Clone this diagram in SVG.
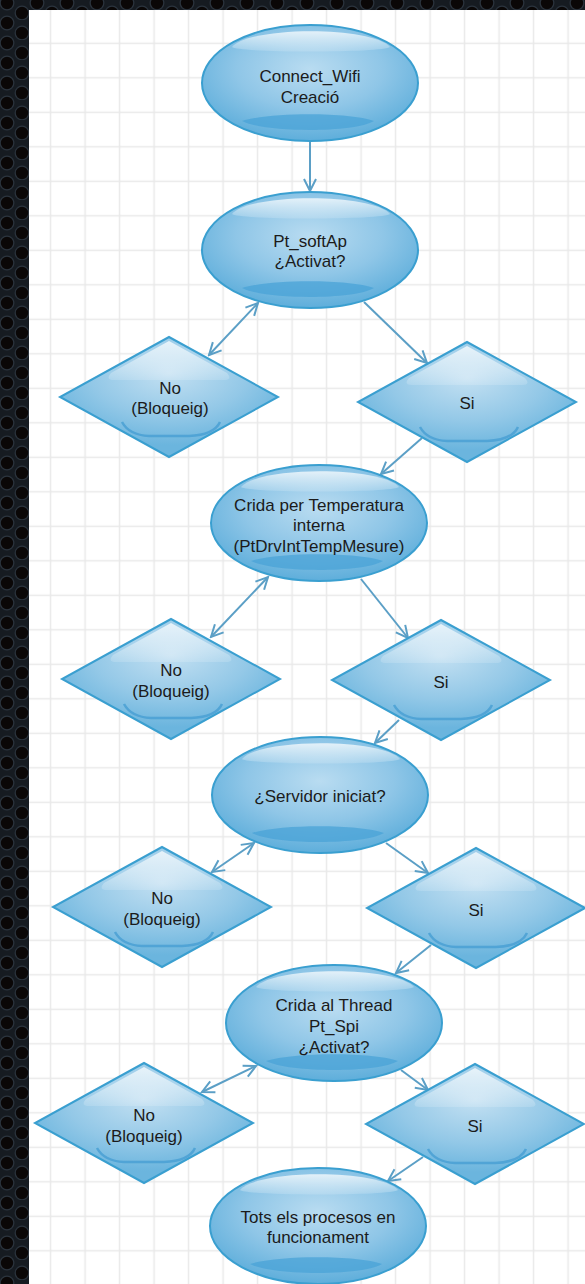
<svg xmlns="http://www.w3.org/2000/svg" width="585" height="1284" viewBox="0 0 585 1284">
<defs>
<style>
.lbl{font-family:"Liberation Sans",Arial,sans-serif;font-size:17px;fill:#1b1b1b;text-anchor:middle}
.conn{stroke:#5b9fc6;stroke-width:2;fill:none}
.ell{fill:url(#eg);stroke:#3a9fd0;stroke-width:2}
.dia{fill:url(#dg);stroke:#3a9fd0;stroke-width:2}
.eglo{fill:url(#gl)}
.eband{fill:#4aa3d7;opacity:0.75}
.dglo{fill:url(#gl)}
.dband{fill:none;stroke:#4aa0d4;stroke-width:2.5;opacity:0.85}
.hole{fill:#0a0707;stroke:#2a333d;stroke-width:1.2}
</style>
<pattern id="metal" patternUnits="userSpaceOnUse" width="30" height="20">
<rect width="30" height="20" fill="#161b21"/>
<circle class="hole" cx="7" cy="3" r="6.8"/>
<circle class="hole" cx="7" cy="23" r="6.8"/>
<circle class="hole" cx="22" cy="13" r="6.8"/>
<circle class="hole" cx="-8" cy="13" r="6.8"/>
<circle class="hole" cx="37" cy="3" r="6.8"/>
<circle class="hole" cx="7" cy="-17" r="6.8"/>
</pattern>
<pattern id="grid" patternUnits="userSpaceOnUse" x="33.35" y="26.05" width="34.5" height="34.5">
<path d="M17.25,0 V34.5 M0,17.25 H34.5" stroke="#e9e9e9" stroke-width="1.5" fill="none"/>
</pattern>
<radialGradient id="eg" cx="50%" cy="38%" r="62%">
<stop offset="0" stop-color="#b9dcf1"/>
<stop offset="0.55" stop-color="#8fc6e7"/>
<stop offset="1" stop-color="#5eaedb"/>
</radialGradient>
<radialGradient id="dg" cx="50%" cy="30%" r="60%">
<stop offset="0" stop-color="#c3e0f2"/>
<stop offset="0.6" stop-color="#93c8e7"/>
<stop offset="1" stop-color="#6bb5de"/>
</radialGradient>
<linearGradient id="gl" x1="0" y1="0" x2="0" y2="1">
<stop offset="0" stop-color="#ffffff" stop-opacity="0.75"/>
<stop offset="1" stop-color="#ffffff" stop-opacity="0.15"/>
</linearGradient>
<marker id="ah" markerUnits="userSpaceOnUse" viewBox="-14 -8 16 16" refX="0" refY="0" markerWidth="16" markerHeight="16" orient="auto-start-reverse">
<path d="M-12,-6 L0,0 L-12,6" fill="none" stroke="#5b9fc6" stroke-width="2"/>
</marker>
<g id="ellShape">
<ellipse cx="0" cy="0" rx="108" ry="58" class="ell"/>
<path class="eglo" d="M-78,-36 C-60,-57 62,-57 80,-36 C74,-30 -72,-30 -78,-36 Z"/>
<path class="eband" d="M-68,38 C-40,29 40,29 64,38 C45,50 -45,50 -68,38 Z"/>
</g>
<g id="diaShape">
<polygon points="0,-60 109,0 0,60 -109,0" class="dia"/>
<path class="dglo" d="M0,-56 L58,-24 Q64,-17 55,-17 L-55,-17 Q-64,-17 -58,-24 Z"/>
<path class="dband" d="M-47,25 Q-40,38 -20,39 L20,39 Q45,38 51,25"/>
</g>
</defs>

<rect x="0" y="0" width="585" height="1284" fill="url(#metal)"/>
<rect x="29" y="10" width="556" height="1274" fill="#ffffff"/>
<rect x="29" y="10" width="556" height="1274" fill="url(#grid)"/>

<g id="connectors">
<line class="conn" x1="310" y1="142" x2="310" y2="191" marker-end="url(#ah)"/>
<line class="conn" x1="209" y1="355" x2="258" y2="303" marker-start="url(#ah)" marker-end="url(#ah)"/>
<line class="conn" x1="364" y1="302" x2="427" y2="363" marker-end="url(#ah)"/>
<line class="conn" x1="422" y1="438" x2="381" y2="474" marker-end="url(#ah)"/>
<line class="conn" x1="211" y1="637" x2="268" y2="577" marker-start="url(#ah)" marker-end="url(#ah)"/>
<line class="conn" x1="361" y1="579" x2="408" y2="638" marker-end="url(#ah)"/>
<line class="conn" x1="399" y1="720" x2="375" y2="743" marker-end="url(#ah)"/>
<line class="conn" x1="212" y1="872" x2="254" y2="843" marker-start="url(#ah)" marker-end="url(#ah)"/>
<line class="conn" x1="386" y1="843" x2="428" y2="873" marker-end="url(#ah)"/>
<line class="conn" x1="431" y1="945" x2="396" y2="973" marker-end="url(#ah)"/>
<line class="conn" x1="202" y1="1092" x2="256" y2="1066" marker-start="url(#ah)" marker-end="url(#ah)"/>
<line class="conn" x1="401" y1="1070" x2="428" y2="1090" marker-end="url(#ah)"/>
<line class="conn" x1="423" y1="1157" x2="388" y2="1181" marker-end="url(#ah)"/>
</g>

<g id="n-connect-wifi">
<use href="#ellShape" transform="translate(310,83)"/>
<text class="lbl" x="310" y="82">Connect_Wifi</text>
<text class="lbl" x="310" y="103">Creació</text>
</g>
<g id="n-softap">
<use href="#ellShape" transform="translate(310,250)"/>
<text class="lbl" x="310" y="247">Pt_softAp</text>
<text class="lbl" x="310" y="267">¿Activat?</text>
</g>
<g id="n-no1">
<use href="#diaShape" transform="translate(169,397)"/>
<text class="lbl" x="170" y="394">No</text>
<text class="lbl" x="170" y="414">(Bloqueig)</text>
</g>
<g id="n-si1">
<use href="#diaShape" transform="translate(467,402)"/>
<text class="lbl" x="467" y="409">Si</text>
</g>
<g id="n-temp">
<use href="#ellShape" transform="translate(319,523)"/>
<text class="lbl" x="319" y="511">Crida per Temperatura</text>
<text class="lbl" x="319" y="531">interna</text>
<text class="lbl" x="319" y="552">(PtDrvIntTempMesure)</text>
</g>
<g id="n-no2">
<use href="#diaShape" transform="translate(171,679)"/>
<text class="lbl" x="171" y="676">No</text>
<text class="lbl" x="171" y="697">(Bloqueig)</text>
</g>
<g id="n-si2">
<use href="#diaShape" transform="translate(441,680)"/>
<text class="lbl" x="441" y="688">Si</text>
</g>
<g id="n-servidor">
<use href="#ellShape" transform="translate(320,795)"/>
<text class="lbl" x="320" y="802">¿Servidor iniciat?</text>
</g>
<g id="n-no3">
<use href="#diaShape" transform="translate(162,907)"/>
<text class="lbl" x="162" y="904">No</text>
<text class="lbl" x="162" y="925">(Bloqueig)</text>
</g>
<g id="n-si3">
<use href="#diaShape" transform="translate(476,908)"/>
<text class="lbl" x="476" y="916">Si</text>
</g>
<g id="n-thread">
<use href="#ellShape" transform="translate(334,1023)"/>
<text class="lbl" x="334" y="1011">Crida al Thread</text>
<text class="lbl" x="334" y="1032">Pt_Spi</text>
<text class="lbl" x="334" y="1053">¿Activat?</text>
</g>
<g id="n-no4">
<use href="#diaShape" transform="translate(144,1123)"/>
<text class="lbl" x="144" y="1121">No</text>
<text class="lbl" x="144" y="1142">(Bloqueig)</text>
</g>
<g id="n-si4">
<use href="#diaShape" transform="translate(475,1124)"/>
<text class="lbl" x="475" y="1132">Si</text>
</g>
<g id="n-tots">
<use href="#ellShape" transform="translate(318,1226)"/>
<text class="lbl" x="318" y="1223">Tots els procesos en</text>
<text class="lbl" x="318" y="1243">funcionament</text>
</g>
</svg>
